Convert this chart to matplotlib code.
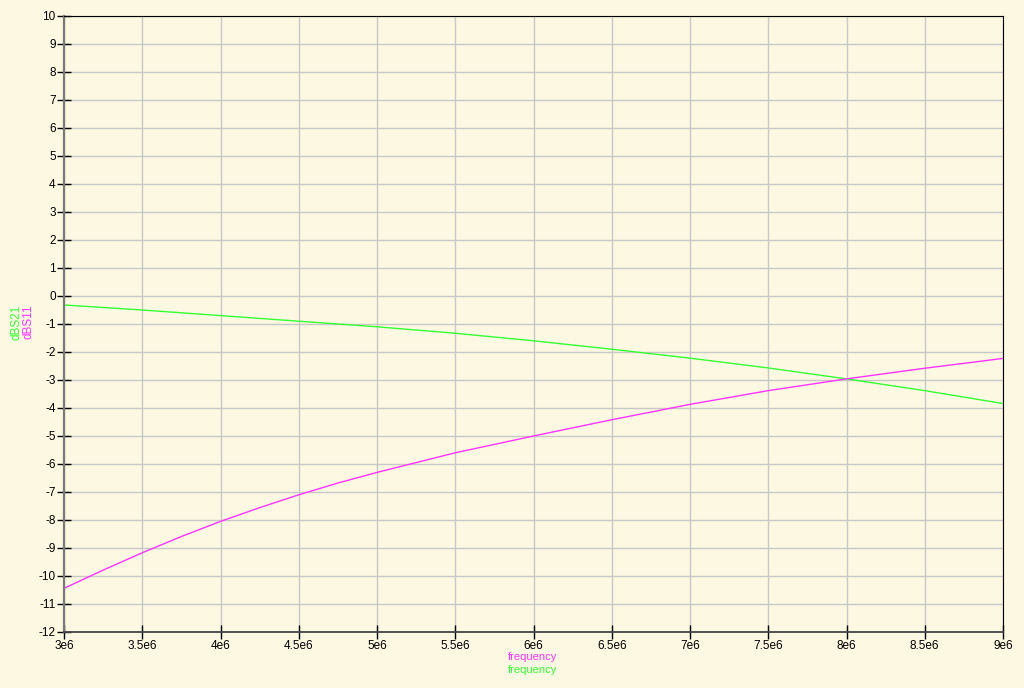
import matplotlib
matplotlib.use('Agg')
from matplotlib import pyplot as plt

# frequency sweep and the two S-parameter curves
freq21 = [3.0e6, 3.5e6, 4.0e6, 4.5e6, 5.0e6, 5.5e6, 6.0e6, 6.5e6, 7.0e6, 7.5e6, 8.0e6, 8.5e6, 9.0e6]
dbs21 = [-0.32, -0.50, -0.70, -0.90, -1.10, -1.33, -1.60, -1.90, -2.22, -2.57, -2.96, -3.38, -3.84]

freq11 = [3.0e6, 3.25e6, 3.5e6, 3.75e6, 4.0e6, 4.25e6, 4.5e6, 4.75e6, 5.0e6, 5.5e6, 6.0e6, 6.5e6, 7.0e6, 7.5e6, 8.0e6, 8.5e6, 9.0e6]
dbs11 = [-10.44, -9.79, -9.17, -8.59, -8.05, -7.56, -7.10, -6.68, -6.30, -5.60, -5.00, -4.42, -3.87, -3.38, -2.96, -2.58, -2.23]

xticks = [3.0e6, 3.5e6, 4.0e6, 4.5e6, 5.0e6, 5.5e6, 6.0e6, 6.5e6, 7.0e6, 7.5e6, 8.0e6, 8.5e6, 9.0e6]
xlabels = ['3e6', '3.5e6', '4e6', '4.5e6', '5e6', '5.5e6', '6e6', '6.5e6', '7e6', '7.5e6', '8e6', '8.5e6', '9e6']
yticks = list(range(-12, 11))

green = '#33ff33'
magenta = '#ff33ff'
bg = '#fdf8e2'

plt.rcParams['font.family'] = ['Liberation Sans', 'DejaVu Sans']

fig = plt.figure(figsize=(10.24, 6.88), dpi=100, facecolor=bg)
ax = fig.add_axes([64/1024, 56/688, 939/1024, 616/688], facecolor=bg)

ax.plot(freq21, dbs21, color=green, lw=1)
ax.plot(freq11, dbs11, color=magenta, lw=1)

ax.set_xlim(3e6, 9e6)
ax.set_ylim(-12, 10)
ax.set_xticks(xticks)
ax.set_xticklabels(xlabels)
ax.set_yticks(yticks)
ax.set_yticklabels([str(v) for v in yticks])
ax.grid(True, color='#c8c8c8', lw=1)
ax.set_axisbelow(True)
ax.tick_params(direction='inout', length=10, width=1, labelsize=8.5, colors='black', pad=1)

ax.spines['left'].set_color('#7a7a7a')
ax.spines['left'].set_linewidth(1.6)
ax.spines['bottom'].set_color('#444444')
ax.spines['bottom'].set_linewidth(1.3)
ax.spines['top'].set_color('black')
ax.spines['right'].set_color('black')

fig.text(17/1024, 1 - 322/688, 'dBS21', color=green, rotation=90, fontsize=8.5, ha='center', va='center')
fig.text(28/1024, 1 - 322/688, 'dBS11', color=magenta, rotation=90, fontsize=8.5, ha='center', va='center')
fig.text(533/1024, 1 - 657/688, 'frequency', color=magenta, fontsize=8, ha='center', va='center')
fig.text(533/1024, 1 - 670/688, 'frequency', color=green, fontsize=8, ha='center', va='center')

plt.savefig('out.png', dpi=100, facecolor=bg)
